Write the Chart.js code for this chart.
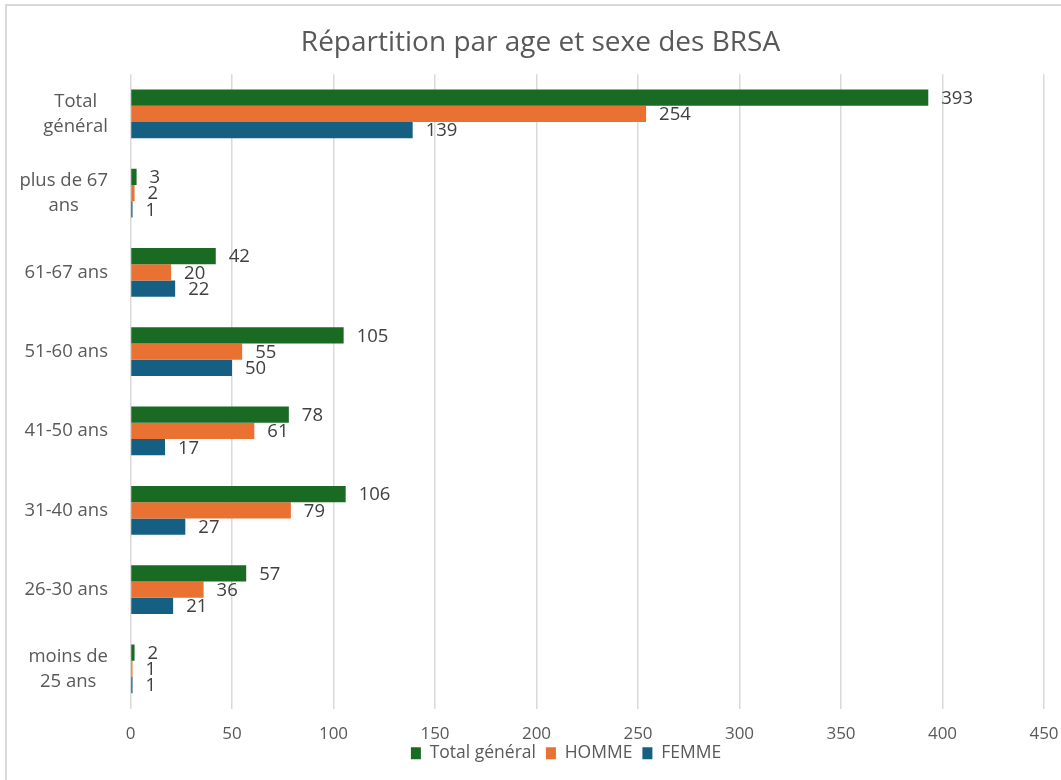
<!DOCTYPE html>
<html>
<head>
<meta charset="utf-8">
<script src="https://cdn.jsdelivr.net/npm/chart.js@4.4.1/dist/chart.umd.min.js"></script>
<style>
  html, body { margin: 0; padding: 0; background: #ffffff; overflow: hidden; }
  #wrap { position: relative; width: 1061px; height: 780px; }
  canvas { display: block; }
</style>
</head>
<body>
<div id="wrap"><canvas id="chart" width="1061" height="780"></canvas></div>
<script>
// ---- Data ----
const categories = ['Total général', 'plus de 67 ans', '61-67 ans', '51-60 ans', '41-50 ans', '31-40 ans', '26-30 ans', 'moins de 25 ans'];
const categoryLines = [['Total', 'général'], ['plus de 67', 'ans'], ['61-67 ans'], ['51-60 ans'], ['41-50 ans'], ['31-40 ans'], ['26-30 ans'], ['moins de', '25 ans']];
const seriesNames = ['Total général', 'HOMME', 'FEMME'];
const totalValues = [393, 3, 42, 105, 78, 106, 57, 2];
const hommeValues = [254, 2, 20, 55, 61, 79, 36, 1];
const femmeValues = [139, 1, 22, 50, 17, 27, 21, 1];
const xAxisMin = 0;
const xAxisMax = 450;
const xAxisStep = 50;
const chartTitle = 'Répartition par age et sexe des BRSA';

// ---- Styles ----
const FONT = "'Open Sans', 'Liberation Sans', Arial, sans-serif";
const seriesColors = ['#196B24', '#E97132', '#156082'];
const TEXT_GREY = '#595959';
const LABEL_GREY = '#404040';
const GRID_GREY = '#D9D9D9';

// frame around the chart (extends beyond the window on right and bottom)
const framePlugin = {
  id: 'frame',
  beforeDraw(chart) {
    const ctx = chart.ctx;
    ctx.save();
    ctx.fillStyle = '#ffffff';
    ctx.fillRect(0, 0, chart.width, chart.height);
    ctx.strokeStyle = GRID_GREY;
    ctx.lineWidth = 2;
    ctx.strokeRect(6, 5, chart.width + 50, chart.height + 50);
    ctx.restore();
  }
};

// position tweaks for title and legend (Excel centres them differently)
const placePlugin = {
  id: 'place',
  afterLayout(chart) {
    const t = chart.titleBlock;
    if (t) { t.left += 18.5; t.right += 18.5; }
    const l = chart.legend;
    if (l) { l.left += 44; l.right += 44; l.top -= 8; l.bottom -= 8; }
  }
};

// category labels: block right-aligned, lines centred within block
const categoryLabelPlugin = {
  id: 'categoryLabels',
  afterDraw(chart) {
    const ctx = chart.ctx;
    const yScale = chart.scales.y;
    const rightEdge = chart.chartArea.left - 22.5;
    const lineH = 25;
    ctx.save();
    ctx.font = '18.5px ' + FONT;
    ctx.fillStyle = TEXT_GREY;
    ctx.textAlign = 'center';
    ctx.textBaseline = 'middle';
    categoryLines.forEach((lines, i) => {
      const yc = yScale.getPixelForValue(i);
      const w = Math.max(...lines.map(s => ctx.measureText(s).width));
      const xc = rightEdge - w / 2;
      const y0 = yc - (lines.length - 1) * lineH / 2;
      lines.forEach((s, k) => ctx.fillText(s, xc, y0 + k * lineH));
    });
    ctx.restore();
  }
};

// value labels at the end of each bar
const dataLabelPlugin = {
  id: 'dataLabels',
  afterDatasetsDraw(chart) {
    const ctx = chart.ctx;
    ctx.save();
    ctx.font = '18.5px ' + FONT;
    ctx.fillStyle = LABEL_GREY;
    ctx.textAlign = 'left';
    ctx.textBaseline = 'middle';
    chart.data.datasets.forEach((ds, di) => {
      const meta = chart.getDatasetMeta(di);
      meta.data.forEach((bar, i) => {
        ctx.fillText(String(ds.data[i]), bar.x + 13, bar.y + 1);
      });
    });
    ctx.restore();
  }
};

const valueSets = [totalValues, hommeValues, femmeValues];
const datasets = seriesNames.map((name, k) => ({
  label: name,
  data: valueSets[k],
  backgroundColor: seriesColors[k],
  borderWidth: 0,
  barPercentage: 1.0,
  categoryPercentage: 0.615
}));

new Chart(document.getElementById('chart'), {
  type: 'bar',
  data: { labels: categories, datasets: datasets },
  options: {
    indexAxis: 'y',
    responsive: false,
    animation: false,
    devicePixelRatio: 1,
    layout: { padding: { left: 0, right: 17, top: 0, bottom: 0 } },
    plugins: {
      title: {
        display: true,
        text: chartTitle,
        color: TEXT_GREY,
        font: { family: FONT, size: 28, weight: 'normal', lineHeight: 1.2 },
        padding: { top: 26.5, bottom: 14.1 }
      },
      legend: {
        display: true,
        position: 'bottom',
        labels: {
          color: TEXT_GREY,
          font: { family: FONT, size: 17.5 },
          boxWidth: 10,
          boxHeight: 12,
          padding: 10
        }
      },
      tooltip: { enabled: false }
    },
    scales: {
      x: {
        min: xAxisMin,
        max: xAxisMax,
        ticks: {
          stepSize: xAxisStep,
          color: TEXT_GREY,
          font: { family: FONT, size: 17 },
          padding: 15
        },
        grid: { color: GRID_GREY, lineWidth: 1.5, drawTicks: false },
        border: { display: false },
        afterFit(scale) { scale.height = 34; scale.paddingLeft = 0; scale.paddingRight = 0; }
      },
      y: {
        ticks: { display: false },
        grid: { display: false },
        border: { display: false },
        afterFit(scale) { scale.width = 130.5; }
      }
    }
  },
  plugins: [framePlugin, placePlugin, categoryLabelPlugin, dataLabelPlugin]
});
</script>
</body>
</html>
